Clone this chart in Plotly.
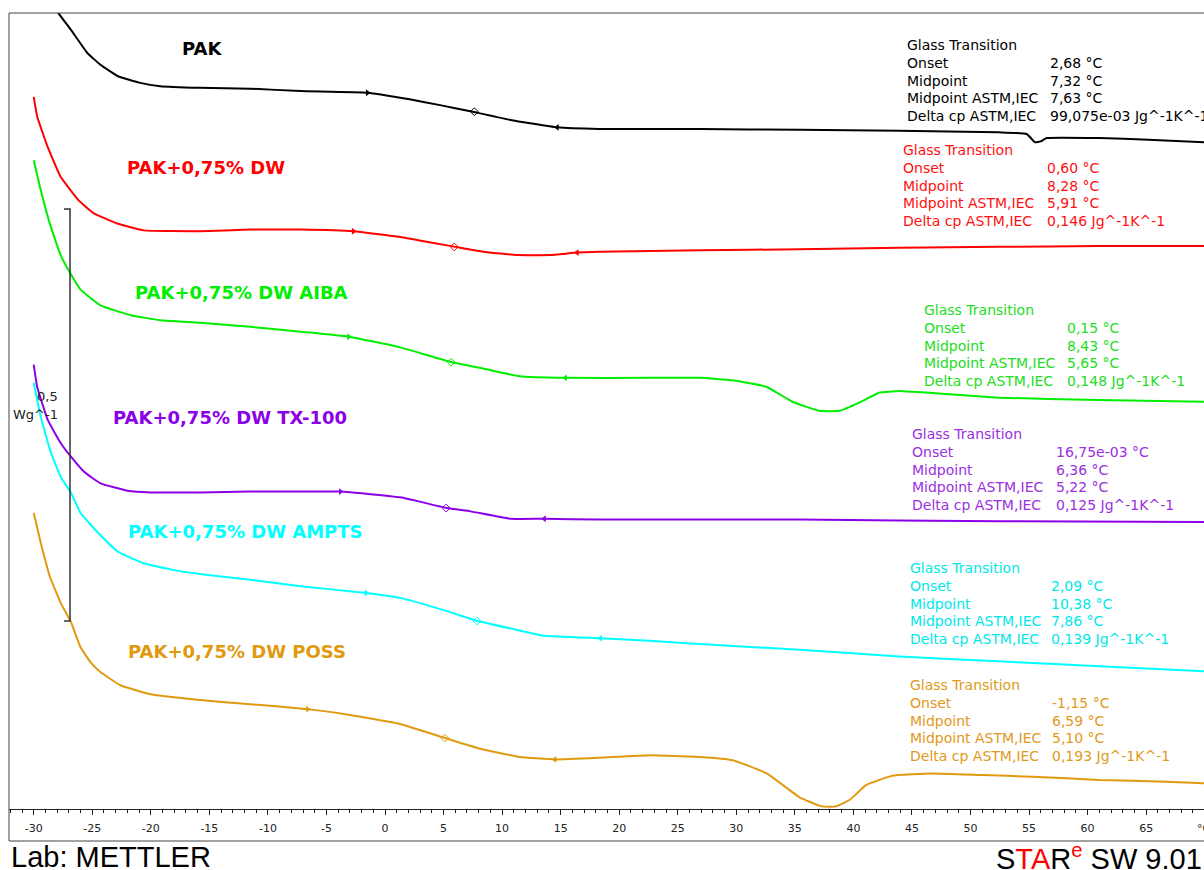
import plotly.graph_objects as go

# ---------------------------------------------------------------------------
# DSC heating scans, heat flow in W/g (curves stacked with display offsets)
# ---------------------------------------------------------------------------
t_pak = [-30.0, -27.9, -26.8, -25.4, -24.3, -22.8, -20.9, -19.2, -15.8, -11.5, -7.2, -1.5,
         2.1, 4.7, 7.5, 10.7, 14.7, 18.3, 26.9, 35.4, 43.9, 52.4, 54.8, 55.5, 56.0, 56.5,
         61.0, 65.2, 70.0]
hf_pak = [1.017, 0.965, 0.944, 0.916, 0.902, 0.888, 0.880, 0.876, 0.874, 0.873, 0.870, 0.868,
          0.860, 0.853, 0.845, 0.835, 0.826, 0.824, 0.824, 0.823, 0.822, 0.820, 0.818, 0.808,
          0.809, 0.813, 0.813, 0.811, 0.808]

t_dw = [-30.0, -29.7, -28.8, -27.7, -26.2, -24.9, -22.8, -20.6, -15.8, -11.5, -7.2, -2.7,
        1.3, 6.0, 8.4, 11.3, 14.1, 16.4, 18.3, 26.9, 35.4, 43.9, 52.4, 61.0, 70.0]
hf_dw = [0.863, 0.839, 0.802, 0.766, 0.738, 0.722, 0.709, 0.701, 0.700, 0.702, 0.702, 0.700,
         0.693, 0.681, 0.675, 0.671, 0.671, 0.674, 0.675, 0.677, 0.678, 0.680, 0.681, 0.682,
         0.682]

t_aiba = [-30.0, -29.4, -28.6, -27.7, -26.8, -26.0, -24.3, -21.7, -19.2, -15.8, -11.5, -7.2,
          -3.1, 1.3, 5.7, 8.5, 11.5, 15.4, 22.6, 26.9, 29.7, 32.6, 34.8, 37.1, 38.8, 40.5,
          42.2, 43.9, 48.2, 52.4, 61.0, 70.0]
hf_aiba = [0.786, 0.750, 0.708, 0.671, 0.647, 0.629, 0.610, 0.598, 0.592, 0.589, 0.584, 0.578,
           0.572, 0.559, 0.541, 0.533, 0.524, 0.522, 0.522, 0.522, 0.519, 0.511, 0.493, 0.482,
           0.482, 0.492, 0.504, 0.506, 0.502, 0.498, 0.495, 0.493]

t_tx = [-30.0, -29.7, -28.8, -27.7, -26.8, -25.7, -24.3, -22.0, -20.0, -15.8, -11.5, -7.2,
        -3.8, 1.3, 5.3, 7.3, 10.7, 13.6, 18.3, 35.4, 52.4, 70.0]
hf_tx = [0.538, 0.511, 0.471, 0.443, 0.426, 0.408, 0.394, 0.385, 0.383, 0.383, 0.384, 0.384,
         0.384, 0.377, 0.364, 0.360, 0.351, 0.351, 0.350, 0.350, 0.348, 0.347]

t_ampts = [-30.0, -29.4, -28.6, -27.7, -26.8, -26.0, -24.5, -22.8, -20.6, -18.1, -15.8, -11.5,
           -7.2, -1.6, 1.3, 5.5, 7.9, 10.7, 13.6, 18.4, 22.6, 26.9, 35.4, 43.9, 52.4, 61.0, 70.0]
hf_ampts = [0.516, 0.475, 0.434, 0.402, 0.382, 0.358, 0.334, 0.311, 0.297, 0.289, 0.284, 0.277,
            0.269, 0.261, 0.255, 0.238, 0.227, 0.218, 0.209, 0.206, 0.203, 0.199, 0.192, 0.184,
            0.178, 0.172, 0.166]

t_poss = [-30.0, -29.4, -28.6, -27.7, -26.8, -26.0, -25.1, -24.3, -22.6, -20.0, -15.8, -11.5,
          -6.6, -3.0, 1.3, 5.1, 8.1, 11.5, 14.5, 18.3, 22.6, 26.9, 29.7, 32.6, 35.4, 37.3,
          38.5, 39.7, 41.1, 43.3, 46.7, 51.0, 55.3, 61.0, 66.7, 70.0]
hf_poss = [0.358, 0.322, 0.280, 0.249, 0.225, 0.195, 0.176, 0.165, 0.149, 0.138, 0.131, 0.126,
           0.120, 0.113, 0.102, 0.085, 0.072, 0.062, 0.059, 0.061, 0.064, 0.062, 0.058, 0.042,
           0.013, 0.002, 0.002, 0.010, 0.028, 0.039, 0.042, 0.040, 0.038, 0.034, 0.032, 0.030]

sample_names = ["PAK", "PAK+0,75% DW", "PAK+0,75% DW AIBA", "PAK+0,75% DW TX-100",
                "PAK+0,75% DW AMPTS", "PAK+0,75% DW POSS"]

# Glass-transition evaluation results
tg_onset = ["2,68 °C", "0,60 °C", "0,15 °C", "16,75e-03 °C", "2,09 °C", "-1,15 °C"]
tg_midpoint = ["7,32 °C", "8,28 °C", "8,43 °C", "6,36 °C", "10,38 °C", "6,59 °C"]
tg_mid_astm = [7.63, 5.91, 5.65, 5.22, 7.86, 5.10]
tg_delta_cp = ["99,075e-03 Jg^-1K^-1", "0,146 Jg^-1K^-1", "0,148 Jg^-1K^-1",
               "0,125 Jg^-1K^-1", "0,139 Jg^-1K^-1", "0,193 Jg^-1K^-1"]
row_names = ["Glass Transition", "Onset", "Midpoint", "Midpoint ASTM,IEC", "Delta cp ASTM,IEC"]

# Evaluation limits and midpoint marks on each curve
limit_left_t = [-1.5, -2.7, -3.1, -3.8, -1.6, -6.6]
limit_left_hf = [0.868, 0.700, 0.572, 0.384, 0.261, 0.120]
limit_right_t = [14.7, 16.4, 15.4, 13.6, 18.4, 14.5]
limit_right_hf = [0.826, 0.674, 0.522, 0.351, 0.206, 0.059]
mid_hf = [0.845, 0.681, 0.541, 0.364, 0.227, 0.085]

# Heat-flow scale bar (W/g)
bar_base = 0.227
bar_len = 0.5

x_ticks = list(range(-30, 70, 5))
x_tick_text = [str(v) for v in x_ticks]

# ---------------------------------------------------------------------------
colors = ["#000000", "#ff0000", "#00ee00", "#8c00e8", "#00ffff", "#e09a10"]
text_colors = ["#000000", "#ff1010", "#22dd22", "#9a30e0", "#00e8e8", "#e09a20"]

curves = [(t_pak, hf_pak), (t_dw, hf_dw), (t_aiba, hf_aiba), (t_tx, hf_tx),
          (t_ampts, hf_ampts), (t_poss, hf_poss)]

# name label anchors (x in °C, y in W/g)
name_pos = [(-17.51, 0.922), (-22.19, 0.777), (-21.52, 0.626), (-23.40, 0.4745),
            (-22.12, 0.335), (-22.12, 0.1905)]
# results table anchors: label column x, value column x, first row y
table_pos = [(44.41, 56.62, 0.926), (44.07, 56.36, 0.7985), (45.86, 58.07, 0.6044),
             (44.83, 57.13, 0.4539), (44.66, 56.70, 0.2913), (44.66, 56.79, 0.1493)]
ROW_STEP = 17.8

fig = go.Figure()

for (t, hf), col, name in zip(curves, colors, sample_names):
    fig.add_trace(go.Scatter(x=t, y=hf, mode="lines", name=name,
                             line=dict(color=col, width=2, shape="spline", smoothing=0.35),
                             hoverinfo="skip"))

for i, col in enumerate(colors):
    fig.add_trace(go.Scatter(x=[limit_left_t[i]], y=[limit_left_hf[i]], mode="markers",
                             marker=dict(symbol="triangle-right", size=6, color=col),
                             hoverinfo="skip"))
    fig.add_trace(go.Scatter(x=[limit_right_t[i]], y=[limit_right_hf[i]], mode="markers",
                             marker=dict(symbol="triangle-left", size=6, color=col),
                             hoverinfo="skip"))
    fig.add_trace(go.Scatter(x=[tg_mid_astm[i]], y=[mid_hf[i]], mode="markers",
                             marker=dict(symbol="diamond-open", size=6, color=col,
                                         line=dict(width=1, color=col)),
                             hoverinfo="skip"))

# scale bar
fig.add_trace(go.Scatter(x=[-27.41, -26.90, -26.90, -27.41],
                         y=[bar_base + bar_len, bar_base + bar_len, bar_base, bar_base],
                         mode="lines", line=dict(color="#333333", width=1.5),
                         hoverinfo="skip"))

annotations = []
for (x, y), name, col in zip(name_pos, sample_names, colors):
    annotations.append(dict(x=x, y=y, xref="x", yref="y", text=name, showarrow=False,
                            xanchor="left", yanchor="middle",
                            font=dict(family="DejaVu Sans", size=18, color=col, weight="bold")))

for i, (xl, xv, y0) in enumerate(table_pos):
    values = [None, tg_onset[i], tg_midpoint[i],
              f"{tg_mid_astm[i]:.2f}".replace(".", ",") + " °C", tg_delta_cp[i]]
    for r, label in enumerate(row_names):
        annotations.append(dict(x=xl, y=y0, xref="x", yref="y", text=label, showarrow=False,
                                xanchor="left", yanchor="middle", yshift=-ROW_STEP * r,
                                font=dict(family="DejaVu Sans", size=14, color=text_colors[i])))
        if values[r]:
            annotations.append(dict(x=xv, y=y0, xref="x", yref="y", text=values[r],
                                    showarrow=False, xanchor="left", yanchor="middle",
                                    yshift=-ROW_STEP * r,
                                    font=dict(family="DejaVu Sans", size=14,
                                              color=text_colors[i])))

# scale bar label
annotations.append(dict(x=-27.75, y=bar_base + bar_len / 2 + 0.023, xref="x", yref="y",
                        text="0,5", showarrow=False, xanchor="right", yanchor="middle",
                        font=dict(family="DejaVu Sans", size=13, color="#222222")))
annotations.append(dict(x=-27.75, y=bar_base + bar_len / 2, xref="x", yref="y",
                        text="Wg^-1", showarrow=False, xanchor="right", yanchor="middle",
                        font=dict(family="DejaVu Sans", size=13, color="#222222")))

# axis unit at the right end of the temperature scale
annotations.append(dict(x=1.0, y=0, xref="paper", yref="paper", text="°C", showarrow=False,
                        xanchor="left", yanchor="middle", xshift=-9, yshift=-19,
                        font=dict(family="DejaVu Sans", size=11, color="#222222")))

# footer
annotations.append(dict(x=0.0, y=-0.0600, xref="paper", yref="paper", text="Lab: METTLER",
                        showarrow=False, xanchor="left", yanchor="middle",
                        font=dict(family="Liberation Sans", size=29, color="#000000")))
annotations.append(dict(x=1.0, y=-0.0600, xref="paper", yref="paper",
                        text="S<span style='color:#ff0000'>TA</span>R"
                             "<sup><span style='color:#ff0000'>e</span></sup> SW 9.01",
                        showarrow=False, xanchor="right", yanchor="middle",
                        font=dict(family="Liberation Sans", size=29, color="#000000")))

fig.update_layout(
    width=1204, height=870,
    margin=dict(l=9, r=0, t=13, b=61),
    paper_bgcolor="white", plot_bgcolor="white",
    showlegend=False,
    annotations=annotations,
    shapes=[dict(type="rect", xref="paper", yref="paper", x0=0, x1=1.02,
                 y0=-32 / 796, y1=1, line=dict(color="#444444", width=1))],
    xaxis=dict(range=[-32.11, 69.94], tickmode="array", tickvals=x_ticks,
               ticktext=x_tick_text,
               showline=True, linecolor="#222222", linewidth=1,
               ticks="outside", ticklen=5, tickwidth=1, tickcolor="#222222",
               minor=dict(dtick=1, tick0=0, ticks="outside", ticklen=3, tickcolor="#222222"),
               tickfont=dict(family="DejaVu Sans", size=11, color="#222222"),
               showgrid=False, zeroline=False, ticklabelstandoff=4),
    yaxis=dict(range=[-0.0012, 0.9648], visible=False, showgrid=False, zeroline=False),
)

fig.write_html("out.html")
